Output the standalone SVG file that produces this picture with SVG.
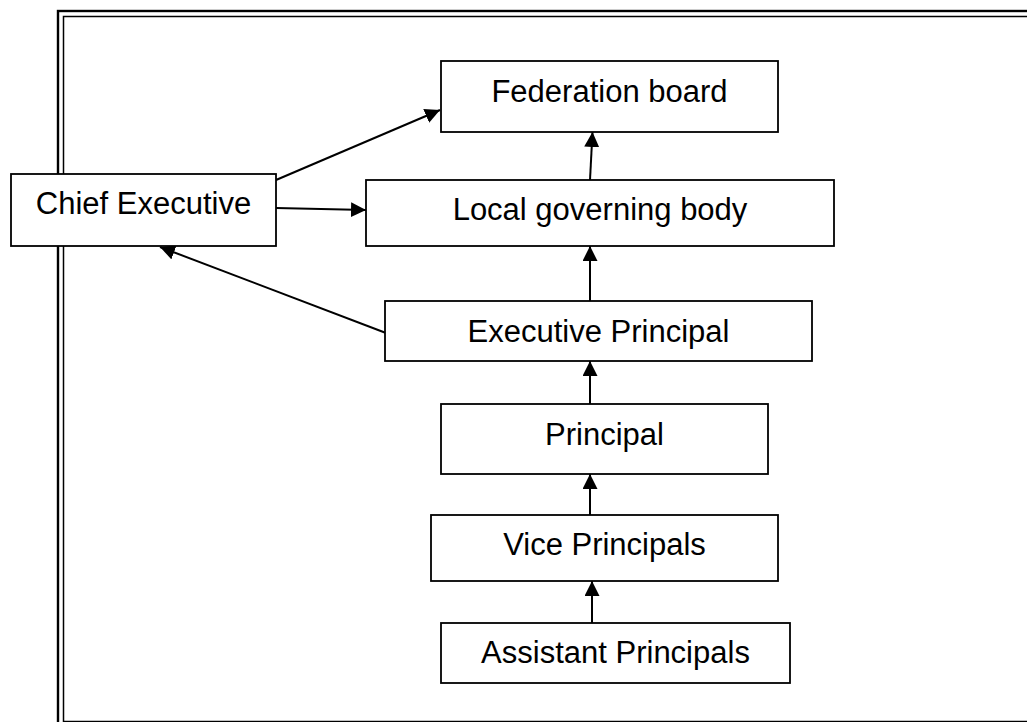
<svg xmlns="http://www.w3.org/2000/svg" width="1027" height="722" viewBox="0 0 1027 722">
<style>
.frame{fill:none;stroke:#000}
.box{fill:#fff;stroke:#000;stroke-width:1.8}
.lbl{font-family:"Liberation Sans",Arial,sans-serif;font-size:31px;fill:#000;text-anchor:middle}
.conn{stroke:#000;stroke-width:2;fill:none}
</style>
<defs>
<marker id="ah" markerUnits="userSpaceOnUse" markerWidth="16" markerHeight="16" refX="15" refY="7.5" orient="auto">
<path d="M0,0 L15,7.5 L0,15 z" fill="#000"/>
</marker>
</defs>
<rect width="1027" height="722" fill="#fff"/>
<g id="frame">
<rect class="frame" x="58" y="11" width="1000" height="740" stroke-width="2.4"/>
<rect class="frame" x="63.5" y="16.5" width="990" height="705" stroke-width="1.5"/>
</g>
<g id="connectors">
<line class="conn" x1="276" y1="180" x2="440" y2="110" marker-end="url(#ah)"/>
<line class="conn" x1="276" y1="208" x2="366" y2="210" marker-end="url(#ah)"/>
<line class="conn" x1="590" y1="180" x2="592.5" y2="132" marker-end="url(#ah)"/>
<line class="conn" x1="590" y1="301" x2="590" y2="246" marker-end="url(#ah)"/>
<line class="conn" x1="590" y1="404" x2="590" y2="361" marker-end="url(#ah)"/>
<line class="conn" x1="590" y1="515" x2="590" y2="474" marker-end="url(#ah)"/>
<line class="conn" x1="592" y1="623" x2="592" y2="581" marker-end="url(#ah)"/>
<line class="conn" x1="386" y1="333" x2="160" y2="247" marker-end="url(#ah)"/>
</g>
<g id="chief">
<rect class="box" x="11" y="174" width="265" height="72"/>
<text class="lbl" x="143.5" y="214">Chief Executive</text>
</g>
<g id="federation">
<rect class="box" x="441" y="61" width="337" height="71"/>
<text class="lbl" x="609.5" y="102">Federation board</text>
</g>
<g id="local">
<rect class="box" x="366" y="180" width="468" height="66"/>
<text class="lbl" x="600" y="220">Local governing body</text>
</g>
<g id="exec">
<rect class="box" x="385" y="301" width="427" height="60"/>
<text class="lbl" x="598.5" y="342">Executive Principal</text>
</g>
<g id="principal">
<rect class="box" x="441" y="404" width="327" height="70"/>
<text class="lbl" x="604.5" y="445">Principal</text>
</g>
<g id="vice">
<rect class="box" x="431" y="515" width="347" height="66"/>
<text class="lbl" x="604.5" y="555">Vice Principals</text>
</g>
<g id="assistant">
<rect class="box" x="441" y="623" width="349" height="60"/>
<text class="lbl" x="615.5" y="663">Assistant Principals</text>
</g>
</svg>
